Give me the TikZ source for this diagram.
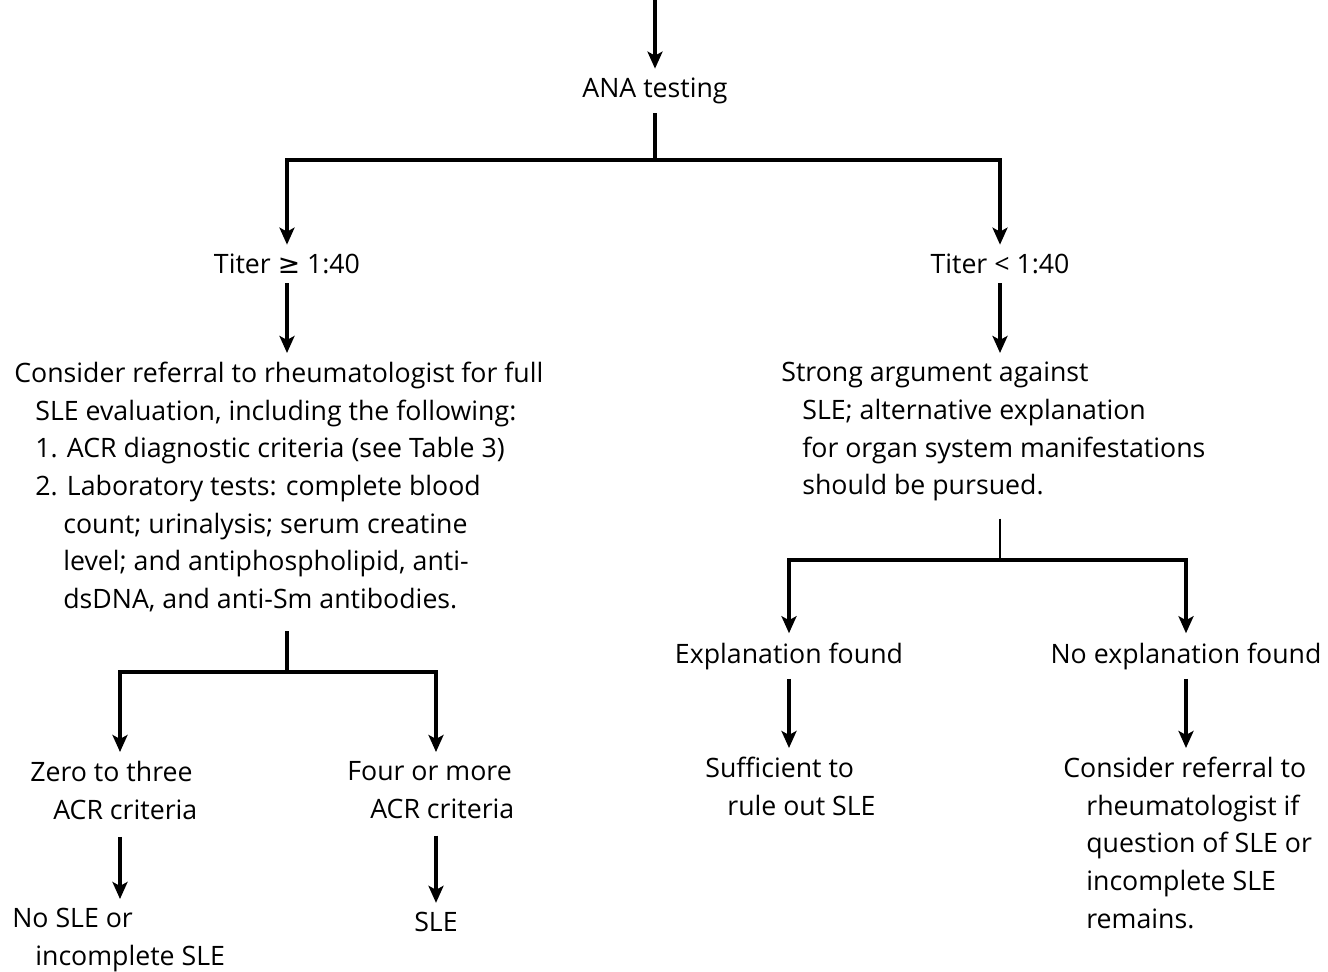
\documentclass[tikz,border=0pt]{standalone}
\usepackage{fontspec}
\setmainfont{Open Sans}
\newfontfamily\symfont{DejaVu Sans}
\usetikzlibrary{arrows.meta,positioning}

\tikzset{
  txt/.style={inner sep=0.18cm, align=left, font=\fontsize{15.2}{21.4}\selectfont},
  arr/.style={line width=2pt, -{Stealth[length=0.34cm,width=0.3cm,inset=0.08cm]}},
  ln/.style={line width=2pt},
  thinln/.style={line width=0.8pt},
}
\newcommand{\ind}[1]{\hspace*{#1}}

\begin{document}
\begin{tikzpicture}[x=0.02cm, y=-0.02cm]
\useasboundingbox (0,0) rectangle (1328,972);

% Nodes
\node[txt] (ana) at (655,91) {ANA testing};
\node[txt] (hi) at (287,264) {Titer {\symfont ≥} 1:40};
\node[txt] (lo) at (1000,264) {Titer < 1:40};
\node[txt, anchor=north west] (cons) at (5,353) {Consider referral to rheumatologist for full\\
  \ind{0.42cm}SLE evaluation, including the following:\\
  \ind{0.42cm}1. ACR diagnostic criteria (see Table 3)\\
  \ind{0.42cm}2. Laboratory tests: complete blood\\
  \ind{0.98cm}count; urinalysis; serum creatine\\
  \ind{0.98cm}level; and antiphospholipid, anti-\\
  \ind{0.98cm}dsDNA, and anti-Sm antibodies.};
\node[txt, anchor=north west] (strong) at (772,353) {Strong argument against\\
  \ind{0.42cm}SLE; alternative explanation\\
  \ind{0.42cm}for organ system manifestations\\
  \ind{0.42cm}should be pursued.};
\node[txt] (expl) at (789,656) {Explanation found};
\node[txt] (noexp) at (1186,656) {No explanation found};
\node[txt, anchor=north west] (suff) at (696,748) {Sufficient to\\
  \ind{0.44cm}rule out SLE};
\node[txt, anchor=north west] (cref) at (1054,748) {Consider referral to\\
  \ind{0.46cm}rheumatologist if\\
  \ind{0.46cm}question of SLE or\\
  \ind{0.46cm}incomplete SLE\\
  \ind{0.46cm}remains.};
\node[txt, anchor=north west] (zero) at (21,752) {Zero to three\\
  \ind{0.46cm}ACR criteria};
\node[txt, anchor=north west] (four) at (338,752) {Four or more\\
  \ind{0.46cm}ACR criteria};
\node[txt, anchor=north west] (nosle) at (3,899) {No SLE or\\
  \ind{0.46cm}incomplete SLE};
\node[txt] (sle) at (436,922) {SLE};

% Junctions
\coordinate (start) at (655,0);
\coordinate (j1) at (655,160);
\coordinate (j2) at (287,672);
\coordinate (j3) at (1000,560);
\coordinate (b1) at (120,672);
\coordinate (b2) at (436,672);

% Arrows
\draw[arr] (start) -- (ana);
\draw[ln] (ana) -- (j1);
\draw[arr] (j1) -| (hi);
\draw[arr] (j1) -| (lo);
\draw[arr] (hi) -- (hi |- cons.north);
\draw[arr] (lo) -- (lo |- strong.north);

\draw[ln, shorten <=0.2cm] (j2 |- cons.south) -- (j2);
\draw[arr] (j2) -| (b1 |- zero.north);
\draw[arr] (j2) -| (b2 |- four.north);
\draw[arr, shorten <=0.16cm] (b1 |- zero.south) -- (b1 |- nosle.north);
\draw[arr, shorten <=0.16cm] (b2 |- four.south) -- (sle);

\draw[thinln, shorten <=0.16cm] (j3 |- strong.south) -- (j3);
\draw[arr] (j3) -| (expl);
\draw[arr] (j3) -| (noexp);
\draw[arr] (expl) -- (expl |- suff.north);
\draw[arr] (noexp) -- (noexp |- cref.north);
\end{tikzpicture}
\end{document}
